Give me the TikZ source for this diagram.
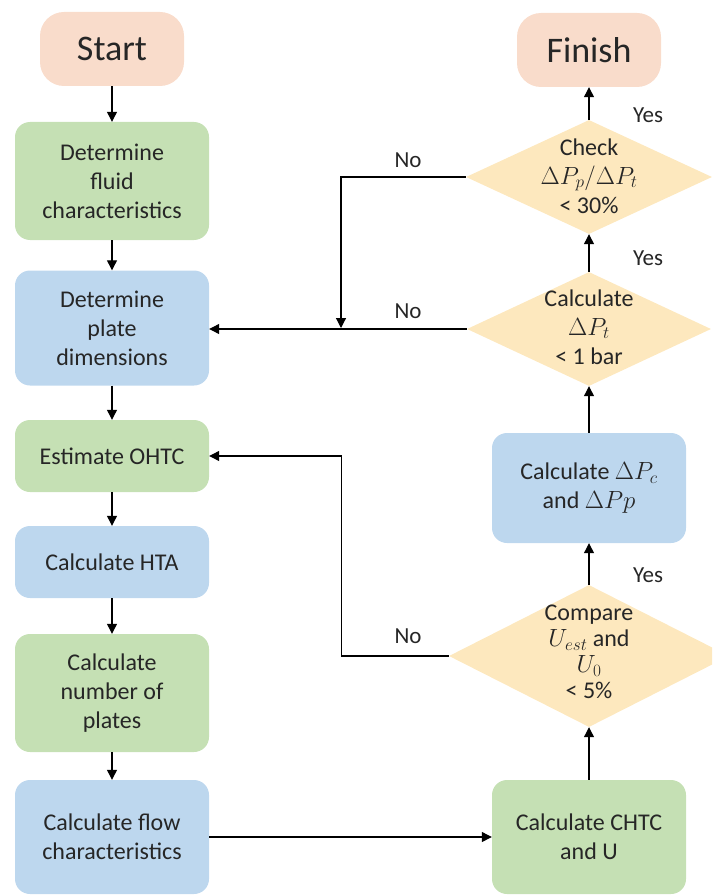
\documentclass[tikz,border=0pt]{standalone}
\usepackage{fontspec}
\setmainfont{Carlito}
\usetikzlibrary{shapes.geometric,arrows.meta}
\definecolor{boxgreen}{HTML}{C5E0B4}
\definecolor{boxblue}{HTML}{BDD7EE}
\definecolor{peach}{HTML}{F9DCCB}
\definecolor{diayellow}{HTML}{FDE8BE}
\definecolor{ink}{HTML}{262626}
\tikzset{
 box/.style={rounded corners=15pt, minimum width=194pt, inner sep=2pt, align=center, text=ink, font=\fontsize{24}{29}\selectfont},
 grn/.style={box, fill=boxgreen},
 blu/.style={box, fill=boxblue},
 term/.style={rounded corners=24pt, fill=peach, minimum width=144pt, minimum height=74pt, text=ink, font=\fontsize{36}{40}\selectfont},
 dia/.style={diamond, fill=diayellow, inner sep=0pt},
 diatext/.style={align=center, text=ink, font=\fontsize{24}{29}\selectfont},
 arr/.style={-{Triangle[length=10pt,width=10pt]}, line width=1.2pt},
 lab/.style={text=ink, font=\fontsize{23}{25}\selectfont}
}
\begin{document}
\begin{tikzpicture}[x=1pt,y=-1pt]
\useasboundingbox (0,0) rectangle (712,896);
\clip (0,0) rectangle (712,896);
% left column
\node[term] (start) at (112,49) {Start};
\node[grn, minimum height=118pt] (fluid) at (112,181) {Determine\\fluid\\characteristics};
\node[blu, minimum height=115pt] (plate) at (112,328) {Determine\\plate\\dimensions};
\node[grn, minimum height=72pt] (ohtc) at (112,456) {Estimate OHTC};
\node[blu, minimum height=72pt] (hta) at (112,562) {Calculate HTA};
\node[grn, minimum height=118pt] (nplates) at (112,693) {Calculate\\number of\\plates};
\node[blu, minimum height=114pt] (flow) at (112,837) {Calculate flow\\characteristics};
% right column
\node[term] (finish) at (589,50) {Finish};
\node[grn, minimum height=114pt] (chtc) at (589,837) {Calculate CHTC\\and U};
\node[blu, minimum height=110pt] (dp) at (589,488) {Calculate $\Delta P_c$\\and $\Delta Pp$};
\node[dia, minimum width=280pt, minimum height=142pt] (cmp) at (589,656) {};
\node[diatext, font=\fontsize{24}{26}\selectfont] (cmpt) at (589,652) {Compare\\$U_{est}$ and\\$U_0$\\< 5\%};
\node[dia, minimum width=244pt, minimum height=114pt] (dpt) at (589,329) {};
\node[diatext] (dptt) at (589,327) {Calculate\\$\Delta P_t$\\< 1 bar};
\node[dia, minimum width=246pt, minimum height=114pt] (chk) at (589,177) {};
\node[diatext] (chkt) at (589,176) {Check\\$\Delta P_p/\Delta P_t$\\< 30\%};
% connectors
\draw[arr] (start) -- (fluid);
\draw[arr] (fluid) -- (plate);
\draw[arr] (plate) -- (ohtc);
\draw[arr] (ohtc) -- (hta);
\draw[arr] (hta) -- (nplates);
\draw[arr] (nplates) -- (flow);
\draw[arr] (flow) -- (chtc);
\draw[arr] (chtc) -- (cmp);
\draw[arr] (cmp) -- (dp);
\draw[arr] (dp) -- (dpt);
\draw[arr] (dpt) -- (chk);
\draw[arr] (chk) -- (finish);
\draw[arr] (dpt.west) -- (dpt.west -| plate.east);
\coordinate (j1) at (341,328);
\draw[arr] (chk.west) -| (j1);
\draw[arr] (cmp.west) -- ++(-107,0) |- (ohtc.east);
% labels
\node[lab] (y1) at (648,115) {Yes};
\node[lab] (y2) at (648,258) {Yes};
\node[lab] (y3) at (648,575) {Yes};
\node[lab] (n1) at (408,160) {No};
\node[lab] (n2) at (408,311) {No};
\node[lab] (n3) at (408,636) {No};
\end{tikzpicture}
\end{document}
